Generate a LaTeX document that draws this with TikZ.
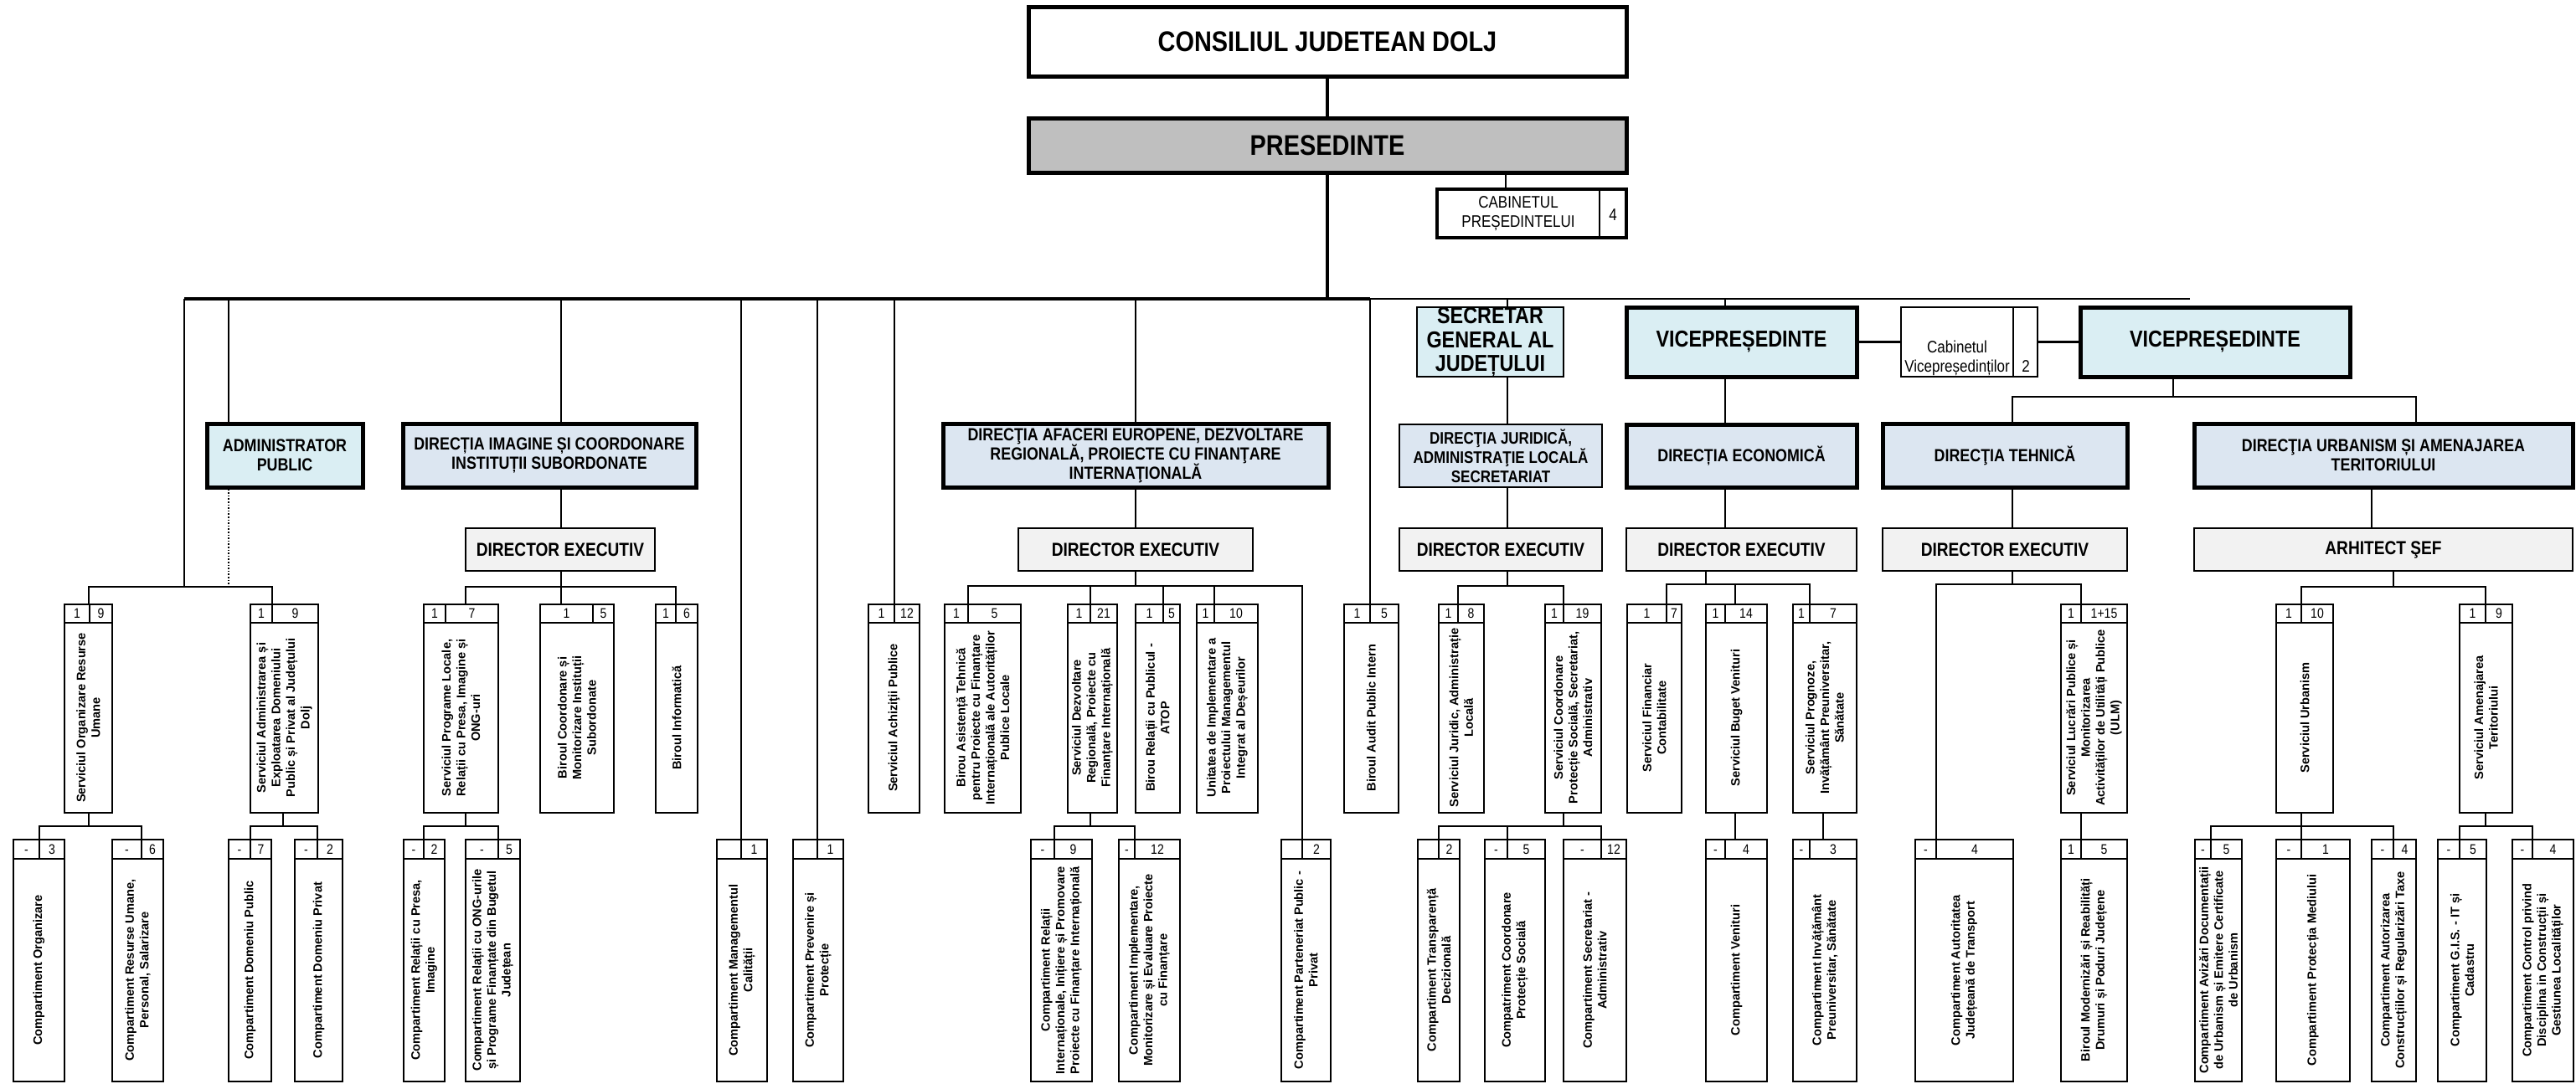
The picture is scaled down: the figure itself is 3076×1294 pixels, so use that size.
\documentclass[tikz,border=0pt]{standalone}
\usepackage{fontspec}
\setmainfont{Liberation Sans}
\newfontfamily\nf[FakeStretch=0.85]{Liberation Sans}
\definecolor{lblue}{HTML}{DAEEF3}
\definecolor{dblue}{HTML}{DCE6F1}
\definecolor{lgray}{HTML}{F2F2F2}
\definecolor{pgray}{HTML}{BFBFBF}
\tikzset{
 bus/.style={line width=3.5pt},
 conn/.style={line width=2pt},
 thinc/.style={line width=1.3pt},
 dotc/.style={line width=1.6pt, dotted},
 ubox/.style={draw, line width=2pt, inner sep=0pt, fill=white},
 numtxt/.style={font=\nf\fontsize{16.5}{18}\selectfont, inner sep=0pt, text height=11.8pt, text depth=0pt},
 vtxt/.style={rotate=90, align=center, inner sep=0pt, font=\bfseries\fontsize{14.6}{17.5}\selectfont},
 hbox/.style={draw, inner sep=0pt, align=center},
 thickb/.style={line width=5pt},
 medb/.style={line width=2.5pt},
 bigf/.style={font=\nf\bfseries\fontsize{34}{40}\selectfont},
 dirf/.style={font=\nf\bfseries\fontsize{21}{23}\selectfont},
 djf/.style={font=\nf\bfseries\fontsize{20}{23}\selectfont},
 vicef/.style={font=\nf\bfseries\fontsize{27.5}{28.5}\selectfont},
 dexf/.style={font=\nf\bfseries\fontsize{22.5}{24}\selectfont},
 cabf/.style={font=\nf\fontsize{20}{23}\selectfont, inner sep=0pt, align=center},
}
% horizontal box: name, x1, y1, x2, y2, style, text
\newcommand\hb[7]{\node[hbox,#6,minimum width={#4-#2},minimum height={#5-#3}] (#1) at ({(#2+#4)/2},{(#3+#5)/2}) {#7};}
% upright unit box: name, x1, xdiv, x2, row, left, right, text, connection x
\newcommand\ub[9]{%
 \ifnum#5=3\relax\def\yT{722}\def\yH{744}\def\yB{971}\else\def\yT{1003}\def\yH{1026}\def\yB{1292}\fi
 \node[ubox, minimum width={#4-#2}, minimum height={\yB-\yT}] (#1) at ({(#2+#4)/2},{(\yT+\yB)/2}) {};
 \draw[line width=2pt] (#2,\yH) -- (#4,\yH) (#3,\yT) -- (#3,\yH);
 \node[numtxt] (#1-l) at ({(#2+#3)/2},{(\yT+\yH)/2}) {#6};
 \node[numtxt] (#1-r) at ({(#3+#4)/2},{(\yT+\yH)/2}) {#7};
 \node[vtxt] (#1-x) at ({(#2+#4)/2},{(\yH+\yB)/2}) {#8};
 \coordinate (#1-t) at (#9,\yT);
 \coordinate (#1-b) at (#9,\yB);
}
\begin{document}
\begin{tikzpicture}[x=1pt,y=-1pt]
\useasboundingbox (0,0) rectangle (3076,1294);
\fill[white] (0,0) rectangle (3076,1294);

% ---------- top level ----------
\hb{CJ}{1228}{8}{1942}{91}{thickb,bigf,fill=white}{CONSILIUL JUDETEAN DOLJ}
\hb{PRES}{1228}{141}{1942}{206}{thickb,bigf,fill=pgray}{PRESEDINTE}
\hb{CABP}{1716}{226}{1942}{284}{line width=3.5pt,fill=white}{}
\node[cabf] (CABPt) at (1813,255) {CABINETUL\\PREȘEDINTELUI};
\node[cabf] (CABPn) at (1926,257) {4};
\draw[line width=2pt] (1910,226) -- (1910,284);

\hb{ADM}{247}{506}{433}{582}{thickb,dirf,fill=lblue}{ADMINISTRATOR\\PUBLIC}
\hb{DI}{481}{506}{831}{582}{thickb,dirf,fill=dblue}{DIRECȚIA IMAGINE ȘI COORDONARE\\INSTITUȚII SUBORDONATE}
\hb{DA}{1126}{506}{1586}{582}{thickb,dirf,fill=dblue}{DIRECŢIA AFACERI EUROPENE, DEZVOLTARE\\REGIONALĂ, PROIECTE CU FINANŢARE\\INTERNAŢIONALĂ}
\hb{SG}{1692}{367}{1867}{450}{medb,vicef,fill=lblue}{SECRETAR\\GENERAL AL\\JUDEȚULUI}
\hb{V1}{1942}{367}{2217}{450}{thickb,vicef,fill=lblue}{VICEPREȘEDINTE}
\hb{CABV}{2270}{367}{2433}{450}{medb,fill=white}{}
\node[cabf] (CABVt) at (2337,428) {Cabinetul\\Vicepreședinților};
\node[cabf] (CABVn) at (2419,438) {2};
\draw[line width=2pt] (2404,367) -- (2404,450);
\hb{V2}{2484}{367}{2806}{450}{thickb,vicef,fill=lblue}{VICEPREȘEDINTE}
\hb{DJ}{1671}{507}{1913}{582}{medb,djf,fill=dblue}{DIRECŢIA JURIDICĂ,\\ADMINISTRAŢIE LOCALĂ\\SECRETARIAT}
\hb{DEC}{1942}{507}{2217}{582}{thickb,dirf,fill=dblue}{DIRECȚIA ECONOMICĂ}
\hb{DT}{2248}{506}{2540}{582}{thickb,dirf,fill=dblue}{DIRECŢIA TEHNICĂ}
\hb{DU}{2620}{506}{3072}{582}{thickb,dirf,fill=dblue}{DIRECŢIA URBANISM ȘI AMENAJAREA\\TERITORIULUI}

\hb{DEI}{556}{631}{782}{682}{medb,dexf,fill=lgray}{DIRECTOR EXECUTIV}
\hb{DEA}{1216}{631}{1496}{682}{medb,dexf,fill=lgray}{DIRECTOR EXECUTIV}
\hb{DEJ}{1671}{631}{1913}{682}{medb,dexf,fill=lgray}{DIRECTOR EXECUTIV}
\hb{DEE}{1942}{631}{2217}{682}{medb,dexf,fill=lgray}{DIRECTOR EXECUTIV}
\hb{DET}{2248}{631}{2540}{682}{medb,dexf,fill=lgray}{DIRECTOR EXECUTIV}
\hb{AS}{2620}{631}{3072}{682}{medb,dexf,fill=lgray}{ARHITECT ŞEF}

% ---------- row 3 ----------
\ub{SORU}{77}{107}{134}{3}{1}{9}{Serviciul Organizare Resurse\\Umane}{106}
\ub{SAED}{299}{325}{380}{3}{1}{9}{Serviciul Administrarea și\\Exploatarea Domeniului\\Public și Privat al Județului\\Dolj}{325}
\ub{SPL}{506}{532}{595}{3}{1}{7}{Serviciul Programe Locale,\\Relații cu Presa, Imagine și\\ONG-uri}{556}
\ub{BCM}{645}{708}{733}{3}{1}{5}{Biroul Coordonare și\\Monitorizare Instituții\\Subordonate}{670}
\ub{BI}{783}{807}{833}{3}{1}{6}{Biroul Informatică}{807}
\ub{SAP}{1037}{1068}{1098}{3}{1}{12}{Serviciul Achiziţii Publice}{1068}
\ub{BAT}{1128}{1156}{1219}{3}{1}{5}{Birou Asistență Tehnică\\pentru Proiecte cu Finanțare\\Internațională ale Autorităților\\Publice Locale}{1156}
\ub{SDR}{1275}{1302}{1334}{3}{1}{21}{Serviciul Dezvoltare\\Regională, Proiecte cu\\Finanțare Internațională}{1302}
\ub{BRP}{1356}{1389}{1409}{3}{1}{5}{Birou Relații cu Publicul -\\ATOP}{1389}
\ub{UIP}{1429}{1450}{1502}{3}{1}{10}{Unitatea de Implementare a\\Proiectului Managementul\\Integrat al Deșeurilor}{1450}
\ub{BAPI}{1605}{1636}{1670}{3}{1}{5}{Biroul Audit Public Intern}{1636}
\ub{SJAL}{1718}{1741}{1772}{3}{1}{8}{Serviciul Juridic, Administrație\\Locală}{1741}
\ub{SCPS}{1845}{1867}{1912}{3}{1}{19}{Serviciul Coordonare\\Protecție Socială, Secretariat,\\Administrativ}{1867}
\ub{SFC}{1943}{1990}{2008}{3}{1}{7}{Serviciul Financiar\\Contabilitate}{1990}
\ub{SBV}{2037}{2060}{2110}{3}{1}{14}{Serviciul Buget Venituri}{2072}
\ub{SPI}{2141}{2161}{2217}{3}{1}{7}{Serviciul Prognoze,\\Invățământ Preuniversitar,\\Sănătate}{2161}
\ub{SLP}{2461}{2485}{2540}{3}{1}{1+15}{Serviciul Lucrări Publice și\\Monitorizarea\\Activităților de Utilități Publice\\(ULM)}{2485}
\ub{SU}{2718}{2748}{2786}{3}{1}{10}{Serviciul Urbanism}{2748}
\ub{SAT}{2937}{2968}{3000}{3}{1}{9}{Serviciul Amenajarea\\Teritoriului}{2968}

% ---------- row 4 ----------
\ub{CO}{16}{47}{77}{4}{-}{3}{Compartiment Organizare}{47}
\ub{CRU}{134}{169}{195}{4}{-}{6}{Compartiment Resurse Umane,\\Personal, Salarizare}{169}
\ub{CDPU}{273}{299}{324}{4}{-}{7}{Compartiment Domeniu Public}{299}
\ub{CDPR}{352}{379}{409}{4}{-}{2}{Compartiment Domeniu Privat}{379}
\ub{CRPI}{482}{506}{531}{4}{-}{2}{Compartiment Relații cu Presa,\\Imagine}{506}
\ub{CRONG}{556}{595}{621}{4}{-}{5}{Compartiment Relații cu ONG-urile\\și Programe Finanțate din Bugetul\\Județean}{595}
\ub{CMC}{856}{885}{916}{4}{}{1}{Compartiment Managementul\\Calității}{885}
\ub{CPP}{947}{976}{1007}{4}{}{1}{Compartiment Prevenire și\\Protecție}{976}
\ub{CRI}{1231}{1259}{1304}{4}{-}{9}{Compartiment Relații\\Internaționale, Inițiere și Promovare\\Proiecte cu Finanțare Internațională}{1259}
\ub{CIM}{1336}{1355}{1409}{4}{-}{12}{Compartiment Implementare,\\Monitorizare și Evaluare Proiecte\\cu Finanțare}{1355}
\ub{CPPP}{1530}{1555}{1589}{4}{}{2}{Compartiment Parteneriat Public -\\Privat}{1555}
\ub{CTD}{1693}{1718}{1743}{4}{}{2}{Compartiment Transparență\\Decizională}{1718}
\ub{CCPS}{1773}{1800}{1845}{4}{-}{5}{Compatriment Coordonare\\Protecție Socială}{1800}
\ub{CSA}{1867}{1912}{1942}{4}{-}{12}{Compartiment Secretariat -\\Administrativ}{1912}
\ub{CV}{2037}{2060}{2110}{4}{-}{4}{Compartiment Venituri}{2072}
\ub{CIPS}{2141}{2161}{2217}{4}{-}{3}{Compartiment Invățământ\\Preuniversitar, Sănătate}{2177}
\ub{CAJ}{2287}{2312}{2404}{4}{-}{4}{Compartiment Autoritatea\\Județeană de Transport}{2312}
\ub{BMR}{2461}{2485}{2540}{4}{1}{5}{Biroul Modernizări și Reabilități\\Drumuri și Poduri Județene}{2485}
\ub{CAD}{2621}{2640}{2677}{4}{-}{5}{Compartiment Avizări Documentații\\de Urbanism și Emitere Certificate\\de Urbanism}{2640}
\ub{CPM}{2718}{2748}{2806}{4}{-}{1}{Compartiment Protecția Mediului}{2748}
\ub{CAC}{2832}{2858}{2885}{4}{-}{4}{Compartiment Autorizarea\\Construcțiilor și Regularizări Taxe}{2858}
\ub{CGIS}{2911}{2937}{2969}{4}{-}{5}{Compartiment G.I.S. - IT și\\Cadastru}{2937}
\ub{CCD}{3000}{3024}{3073}{4}{-}{4}{Compartiment Control privind\\Disciplina in Construcții și\\Gestiunea Localităților}{3024}

% ---------- connectors ----------
\coordinate (busL) at (220,357);
\coordinate (busM) at (1636,357);
\coordinate (busR) at (2615,357);
\coordinate (sby) at (0,987);
\draw[bus] (CJ.south) -- (PRES.north);
\draw[bus] (PRES.south) -- (PRES.south |- busL);
\coordinate (cabj) at (1798,226);
\draw[conn] (cabj |- PRES.south) -- (cabj);
\draw[bus] (busL) -- (busM);
\draw[thinc] (busM) -- (busR);

% left group
\coordinate (gL) at (106,701);
\coordinate (gR) at (325,701);
\draw[conn] (busL) -- (busL |- gL);
\draw[conn] (SORU-t) -- (gL) -- (gR) -- (SAED-t);
\coordinate (admx) at (273,357);
\draw[conn] (admx) -- (admx |- ADM.north);
\draw[dotc] (admx |- ADM.south) -- (admx |- gL);
\draw[conn] (SORU-b) -- (SORU-b |- sby);
\draw[conn] (CO-t) -- (CO-t |- sby) -- (CRU-t |- sby) -- (CRU-t);
\coordinate (saedb) at (338,971);
\draw[conn] (saedb) -- (saedb |- sby);
\draw[conn] (CDPU-t) -- (CDPU-t |- sby) -- (CDPR-t |- sby) -- (CDPR-t);

% directia imagine
\coordinate (dix) at (670,357);
\draw[conn] (dix) -- (dix |- DI.north);
\draw[conn] (dix |- DI.south) -- (dix |- DEI.north);
\coordinate (gIL) at (556,701);
\coordinate (gIR) at (807,701);
\draw[conn] (dix |- DEI.south) -- (dix |- gIL);
\draw[conn] (SPL-t) -- (gIL) -- (gIR) -- (BI-t);
\draw[conn] (BCM-t) -- (BCM-t |- gIL);
\draw[conn] (SPL-b) -- (SPL-b |- sby);
\draw[conn] (CRPI-t) -- (CRPI-t |- sby) -- (CRONG-t |- sby) -- (CRONG-t);

% direct drops
\draw[conn] (CMC-t |- busL) -- (CMC-t);
\draw[conn] (CPP-t |- busL) -- (CPP-t);
\draw[conn] (SAP-t |- busL) -- (SAP-t);

% directia afaceri
\draw[conn] (DA.north |- busL) -- (DA.north);
\draw[thinc] (DA.south) -- (DEA.north);
\coordinate (gAL) at (1156,700);
\coordinate (gAR) at (1555,700);
\draw[conn] (DEA.south) -- (DEA.south |- gAL);
\draw[conn] (BAT-t) -- (gAL) -- (gAR) -- (CPPP-t);
\draw[conn] (SDR-t) -- (SDR-t |- gAL);
\draw[conn] (BRP-t) -- (BRP-t |- gAL);
\draw[conn] (UIP-t) -- (UIP-t |- gAL);
\draw[conn] (SDR-b) -- (SDR-b |- sby);
\draw[conn] (CRI-t) -- (CRI-t |- sby) -- (CIM-t |- sby) -- (CIM-t);

% audit
\draw[thinc] (busM) -- (BAPI-t);

% secretar general
\coordinate (sgx) at (1800,357);
\draw[thinc] (sgx) -- (sgx |- SG.north);
\draw[conn] (sgx |- SG.south) -- (sgx |- DJ.north);
\draw[thinc] (sgx |- DJ.south) -- (sgx |- DEJ.north);
\coordinate (gJ) at (1800,700);
\draw[conn] (sgx |- DEJ.south) -- (gJ);
\draw[conn] (SJAL-t) -- (SJAL-t |- gJ) -- (SCPS-t |- gJ) -- (SCPS-t);
\draw[conn] (SCPS-b) -- (SCPS-b |- sby);
\draw[conn] (CTD-t) -- (CTD-t |- sby) -- (CSA-t |- sby) -- (CSA-t);
\draw[conn] (CCPS-t) -- (CCPS-t |- sby);

% vicepresedinte 1
\coordinate (v1x) at (2060,357);
\draw[thinc] (v1x) -- (v1x |- V1.north);
\draw[conn] (v1x |- V1.south) -- (v1x |- DEC.north);
\draw[conn] (v1x |- DEC.south) -- (v1x |- DEE.north);
\coordinate (eB) at (2037,698);
\draw[conn] (eB |- DEE.south) -- (eB);
\draw[conn] (SFC-t) -- (SFC-t |- eB) -- (SPI-t |- eB) -- (SPI-t);
\draw[conn] (SBV-t) -- (SBV-t |- eB);
\draw[conn] (SBV-b) -- (CV-t);
\coordinate (spib) at (2177,971);
\draw[conn] (spib) -- (CIPS-t);

% cabinet vicepresedinti
\draw[line width=3pt] (V1.east) -- (CABV.west);
\draw[line width=3pt] (CABV.east) -- (V2.west);

% vicepresedinte 2
\coordinate (v2x) at (2595,474);
\draw[conn] (v2x |- V2.south) -- (v2x);
\coordinate (gVL) at (2403,474);
\coordinate (gVR) at (2885,474);
\draw[conn] (gVL |- DT.north) -- (gVL) -- (gVR) -- (gVR |- DU.north);
\draw[thinc] (gVL |- DT.south) -- (gVL |- DET.north);
\coordinate (tB) at (2403,698);
\draw[conn] (gVL |- DET.south) -- (tB);
\draw[conn] (CAJ-t) -- (CAJ-t |- tB) -- (SLP-t |- tB) -- (SLP-t);
\draw[conn] (SLP-b) -- (BMR-t);

% urbanism
\coordinate (dux) at (2832,582);
\draw[thinc] (dux |- DU.south) -- (dux |- AS.north);
\coordinate (uB) at (2858,701);
\draw[conn] (uB |- AS.south) -- (uB);
\draw[conn] (SU-t) -- (SU-t |- uB) -- (SAT-t |- uB) -- (SAT-t);
\draw[conn] (SU-b) -- (CPM-t);
\draw[conn] (CAD-t) -- (CAD-t |- sby) -- (CAC-t |- sby) -- (CAC-t);
\draw[conn] (SAT-b) -- (SAT-b |- sby);
\draw[conn] (CGIS-t) -- (CGIS-t |- sby) -- (CCD-t |- sby) -- (CCD-t);
\end{tikzpicture}
\end{document}
